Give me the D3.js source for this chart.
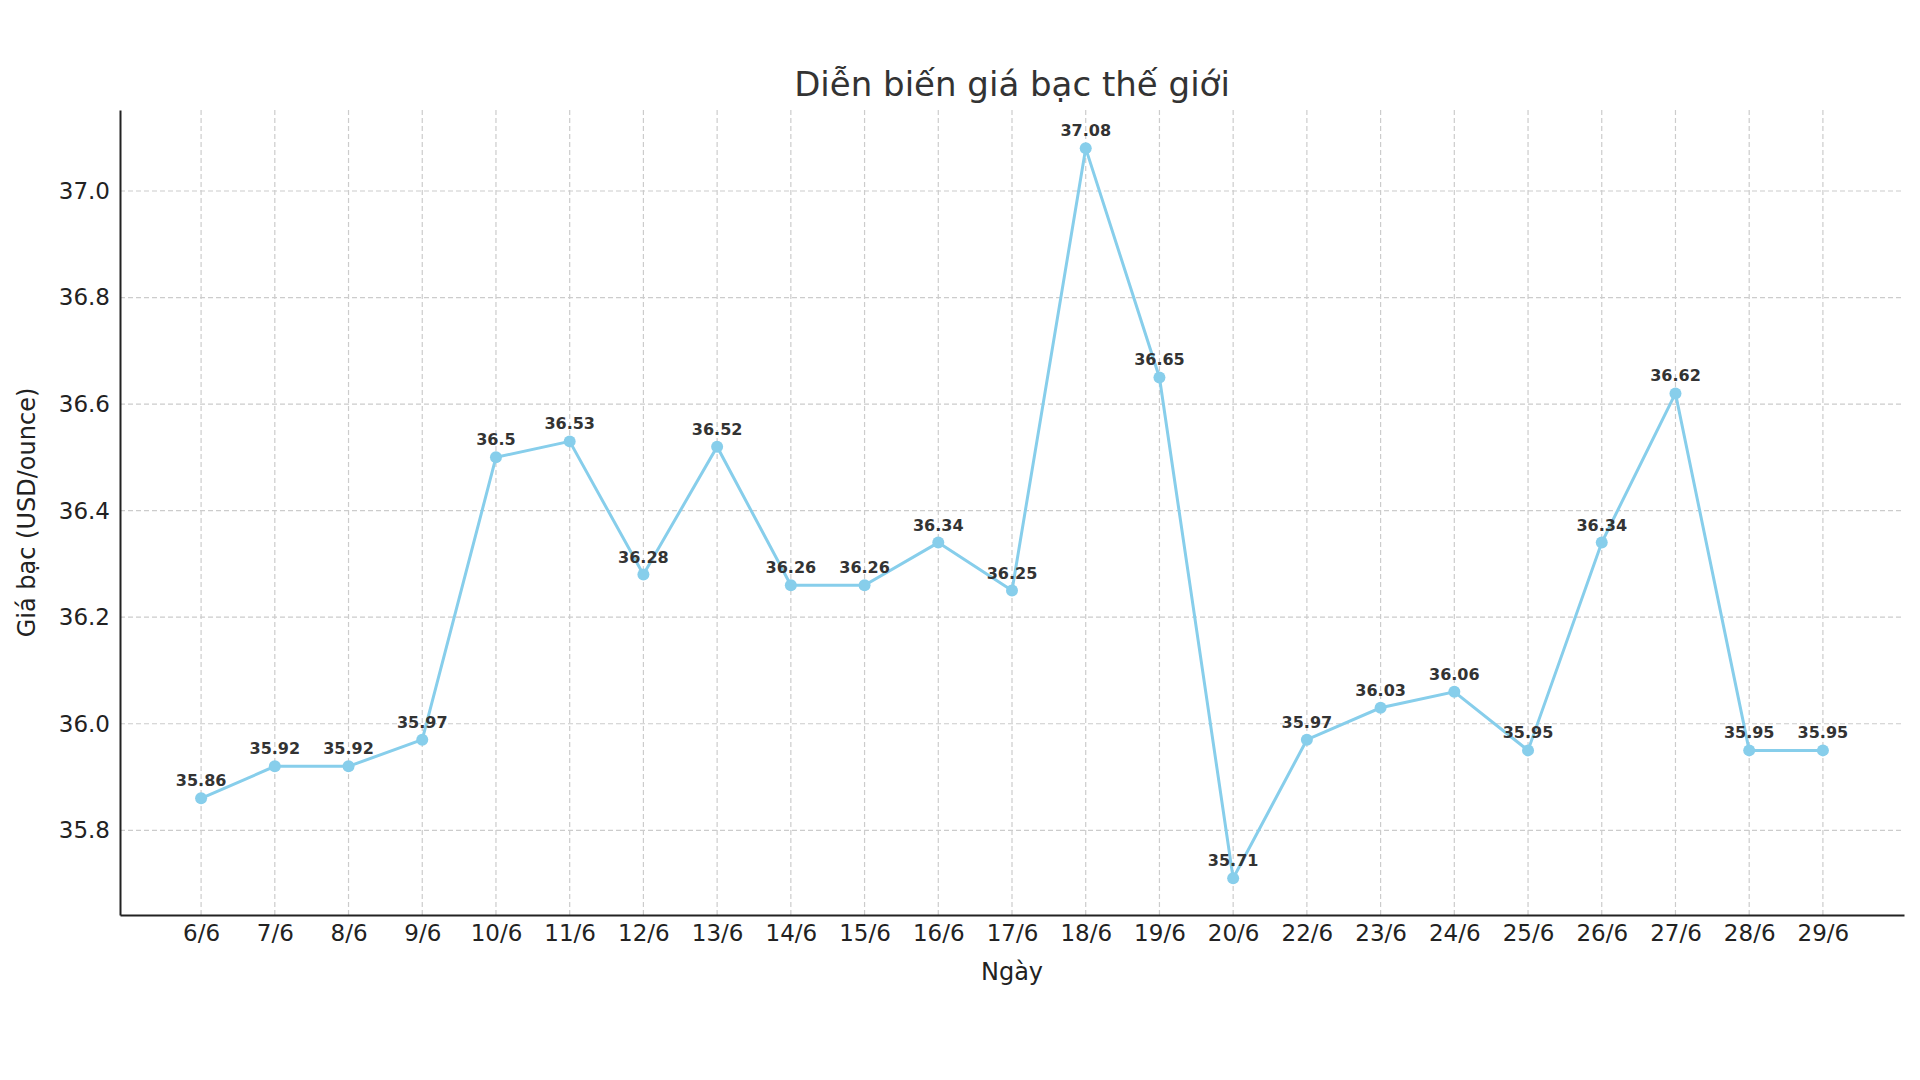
<!DOCTYPE html>
<html>
<head>
<meta charset="utf-8">
<script src="https://cdn.jsdelivr.net/npm/d3@7"></script>
<style>
  body { margin: 0; background: #fff; }
  svg { font-family: "DejaVu Sans", sans-serif; }
</style>
</head>
<body>
<div id="chart"></div>
<script>
const days = ['6/6','7/6','8/6','9/6','10/6','11/6','12/6','13/6','14/6','15/6','16/6','17/6',
  '18/6','19/6','20/6','22/6','23/6','24/6','25/6','26/6','27/6','28/6','29/6'];
const prices = [35.86, 35.92, 35.92, 35.97, 36.5, 36.53, 36.28, 36.52, 36.26, 36.26, 36.34, 36.25,
  37.08, 36.65, 35.71, 35.97, 36.03, 36.06, 35.95, 36.34, 36.62, 35.95, 35.95];
const yTicks = [35.8, 36.0, 36.2, 36.4, 36.6, 36.8, 37.0];

const width = 1920, height = 1080;
const margin = { top: 110, right: 16, bottom: 165, left: 120 };
const innerW = width - margin.left - margin.right;
const innerH = height - margin.top - margin.bottom;

const svg = d3.select('#chart').append('svg')
  .attr('width', width).attr('height', height);
const g = svg.append('g').attr('transform', `translate(${margin.left},${margin.top})`);

const x = d3.scalePoint().domain(days).range([0, innerW]).padding(1.1);
const y = d3.scaleLinear().domain([35.641, 37.152]).range([innerH, 0]);

// grid
g.selectAll('.vgrid').data(days).enter().append('line')
  .attr('x1', d => x(d)).attr('x2', d => x(d)).attr('y1', 0).attr('y2', innerH)
  .attr('stroke', '#cccccc').attr('stroke-dasharray', '5,3').attr('stroke-width', 1.2);
g.selectAll('.hgrid').data(yTicks).enter().append('line')
  .attr('x1', 0).attr('x2', innerW).attr('y1', d => y(d)).attr('y2', d => y(d))
  .attr('stroke', '#cccccc').attr('stroke-dasharray', '5,3').attr('stroke-width', 1.2);

// axes
const xAxis = g.append('g').attr('transform', `translate(0,${innerH})`)
  .call(d3.axisBottom(x).tickSize(0).tickPadding(10));
const yAxis = g.append('g')
  .call(d3.axisLeft(y).tickValues(yTicks).tickFormat(d3.format('.1f')).tickSize(0).tickPadding(10));
[xAxis, yAxis].forEach(a => {
  a.select('.domain').attr('stroke', '#222').attr('stroke-width', 2);
  a.selectAll('text').attr('font-size', 23).attr('fill', '#222')
    .attr('font-family', '"DejaVu Sans", sans-serif');
});

// line + points
g.append('path').datum(prices)
  .attr('fill', 'none').attr('stroke', '#87CEEB').attr('stroke-width', 3)
  .attr('d', d3.line().x((d, i) => x(days[i])).y(d => y(d)));
g.selectAll('circle').data(prices).enter().append('circle')
  .attr('cx', (d, i) => x(days[i])).attr('cy', d => y(d)).attr('r', 6)
  .attr('fill', '#87CEEB');
g.selectAll('.lbl').data(prices).enter().append('text')
  .attr('x', (d, i) => x(days[i])).attr('y', d => y(d) - 12)
  .attr('text-anchor', 'middle').attr('font-size', 16).attr('font-weight', 'bold')
  .attr('fill', '#333').text(d => d);

// titles
svg.append('text').attr('x', margin.left + innerW / 2).attr('y', 96)
  .attr('text-anchor', 'middle').attr('font-size', 34).attr('fill', '#333')
  .text('Diễn biến giá bạc thế giới');
svg.append('text').attr('x', margin.left + innerW / 2).attr('y', 980)
  .attr('text-anchor', 'middle').attr('font-size', 24).attr('fill', '#222')
  .text('Ngày');
svg.append('text')
  .attr('transform', `translate(35,${margin.top + innerH / 2}) rotate(-90)`)
  .attr('text-anchor', 'middle').attr('font-size', 24).attr('fill', '#222')
  .text('Giá bạc (USD/ounce)');
</script>
</body>
</html>
